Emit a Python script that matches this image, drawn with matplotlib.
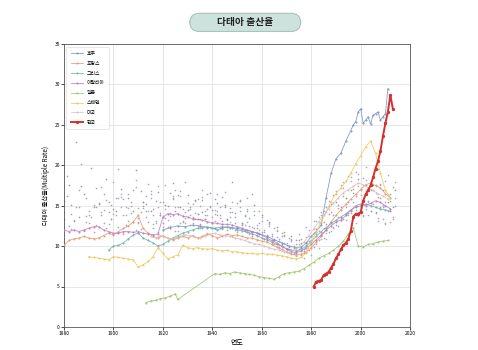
"""
다태아 출산율 chart recreation
"""
import numpy as np
import matplotlib
matplotlib.use('Agg')
import matplotlib.pyplot as plt
from matplotlib.patches import FancyBboxPatch

plt.rcParams['font.family'] = ['Noto Sans CJK KR', 'DejaVu Sans']

nan = np.nan

# highlighted countries
france_years = list(range(1880, 2013, 2))
france = [10.1, 10.7, 10.9, 11.0, 11.2, 11.0, 10.9, 11.0, 11.3, 11.6,
          11.4, 11.8, 12.2, 12.5, 13.0, 13.8, 12.2, 11.6, 11.2, 11.0,
          11.3, 11.0, 10.8, 11.0, 11.2, 11.0, 11.3, 11.0, 11.2, 11.5,
          11.3, 11.0, 11.2, 11.5, 11.3, 11.4, 11.2, 11.0, 11.0, 10.8,
          10.6, 10.5, 10.2, 9.9, 9.6, 9.3, 9.0, 8.9, 9.0, 9.3,
          9.8, 10.5, 11.2, 12.0, 13.0, 13.8, 14.5, 15.2, 15.8, 16.4,
          17.0, 17.6, 17.8, 17.5, 17.2, 16.5, 16.0]

italy_years = list(range(1880, 2013, 2))
italy = [12.0, 11.8, 12.0, 11.8, 12.0, 12.2, 12.4, 12.4, 12.0, 11.8,
         11.6, 11.6, 11.8, 11.8, 11.7, 11.8, 11.6, 11.5, 11.4, 11.5,
         13.6, 14.0, 13.9, 14.0, 13.7, 13.6, 13.4, 13.3, 13.2, 13.0,
         12.9, 12.8, 12.7, 12.7, 12.6, 12.4, 12.2, 12.0, 11.8, 11.6,
         11.4, 11.0, 10.7, 10.4, 10.0, 9.6, 9.3, 9.2, 9.4, 9.8,
         10.2, 10.8, 11.4, 12.0, 12.5, 13.0, 13.2, 13.8, 14.4, 15.0,
         15.2, 15.0, 15.3, 15.6, 15.4, 15.0, 14.6]

greece_years = list(range(1898, 2013, 2))
greece = [9.5, 10.0, 10.1, 10.4, 10.9, 11.4, 11.6, 11.0, 10.7, 10.4,
          10.0, 10.2, 10.6, 11.0, 11.3, 11.6, 11.8, 12.0, 12.2, 12.3,
          12.4, 12.2, 12.0, 12.2, 12.4, 12.3, 12.0, 11.9, 11.7, 11.5,
          11.3, 11.0, 10.8, 10.5, 10.2, 10.0, 9.7, 9.5, 9.4, 9.6,
          10.0, 10.6, 11.2, 11.8, 12.3, 12.8, 13.2, 13.6, 14.0, 14.5,
          14.8, 15.0, 15.2, 15.0, 14.8, 14.6, 14.5, 14.3]

sweden_years = list(range(1890, 2013, 2))
sweden = [8.7, 8.6, 8.5, 8.4, 8.3, 8.7, 8.6, 8.5, 8.4, 8.3,
          7.4, 7.7, 8.1, 8.7, 9.8, 9.1, 8.4, 8.7, 8.9, 10.1,
          9.8, 9.7, 9.8, 9.7, 9.6, 9.7, 9.5, 9.4, 9.5, 9.3,
          9.3, 9.2, 9.1, 9.1, 9.0, 9.1, 9.0, 9.0, 8.9, 8.8,
          8.7, 8.5, 8.4, 8.6, 9.2, 10.5, 11.8, 13.0, 14.2, 15.5,
          16.5, 17.2, 18.0, 19.0, 20.2, 21.2, 22.3, 23.0, 21.5, 19.0,
          16.9, 16.0]

japan_years = [1913, 1915, 1917, 1919, 1921, 1923, 1925, 1926] + list(range(1941, 2012, 2))
japan = [3.0, 3.2, 3.3, 3.5, 3.6, 3.8, 4.1, 3.4,
         6.6, 6.5, 6.7, 6.6, 6.8, 6.7, 6.6, 6.5, 6.4, 6.2,
         6.1, 6.0, 5.9, 6.2, 6.6, 6.7, 6.8, 6.9, 7.2, 7.6,
         8.0, 8.5, 8.8, 9.1, 9.5, 10.0, 10.6, 11.5, 12.3, 10.0,
         9.9, 10.2, 10.3, 10.5, 10.6, 10.7]

australia_years = list(range(1920, 1975, 3)) + list(range(1976, 1997, 2)) + list(range(1997, 2012))
australia = [12.0, 12.3, 12.5, 12.4, 12.6, 12.5, 12.3, 12.2, 12.4, 12.3,
             12.2, 12.0, 11.8, 11.5, 11.2, 10.8, 10.4, 10.0, 9.8,
             9.9, 10.4, 11.2, 11.8, 12.6, 16.0, 19.0, 20.8, 21.5, 23.0, 24.3,
             25.0, 25.4, 26.6, 27.0, 25.2, 25.6, 26.0, 25.1, 26.2, 26.4,
             26.6, 25.6, 26.0, 26.4, 29.5]

usa_years = list(range(1915, 2012, 2))
usa = [11.2, 11.0, 11.3, 11.1, 10.9, 11.0, 11.2, 11.4, 11.3, 11.1,
       11.0, 11.2, 11.5, 11.6, 11.4, 11.3, 11.2, 11.0, 10.9, 10.7,
       10.5, 10.3, 10.2, 10.0, 9.8, 9.6, 9.5, 9.3, 9.2, 9.5,
       9.9, 10.5, 11.3, 12.1, 13.0, 13.8, 14.6, 15.3, 16.0, 16.6,
       17.0, 17.4, 17.8, 17.6, 17.2, 16.9, 16.5, 16.2, 15.8]

korea_years = list(range(1981, 2014))
korea = [5.0, 5.6, 5.7, 5.8, 6.4, 6.6, 6.8, 7.3, 7.8, 8.5,
         9.0, 9.6, 10.1, 10.4, 10.9, 11.9, 13.6, 14.0, 14.0, 14.2,
         15.6, 16.4, 16.9, 17.5, 18.5, 19.6, 20.5, 21.8, 23.6, 25.2,
         26.6, 28.7, 27.0]

# other countries (background dots), one value every 3 years
bg_starts = [1880, 1881, 1882, 1881, 1880, 1882, 1881, 1882,
             1880, 1881, 1882, 1880]
bg_values = [
    [14.2, 15.1, 13.6, 16.0, 14.8, 13.9, 15.5, 14.4, 15.8, 14.1,
     13.5, 15.2, 14.6, 13.8, 15.0, 14.3, 13.7, 14.9, 14.0, 13.4,
     14.5, 13.9, 13.2, 13.6, 12.9, 12.5, 12.2, 11.8, 11.2, 10.6,
     10.1, 9.8, 10.4, 11.2, 12.1, 13.0, 14.2, 15.1, 16.0, 16.6,
     17.1, 16.8, 17.4, 16.9, 16.5],
    [16.2, 13.1, 17.4, 12.8, 14.9, 16.5, 13.3, 15.9, 12.6, 14.4,
     16.8, 13.0, 15.6, 12.9, 14.1, 16.3, 13.5, 15.2, 12.7, 14.6,
     15.8, 13.1, 14.2, 12.4, 13.7, 11.9, 12.8, 11.4, 10.9, 11.3,
     9.9, 10.7, 9.4, 10.8, 11.9, 12.7, 13.8, 14.9, 15.4, 16.2,
     15.7, 16.9, 16.1, 15.5, 14.8],
    [12.5, 14.8, 11.9, 13.6, 15.3, 12.2, 14.0, 16.4, 13.1, 12.0,
     14.7, 15.9, 11.8, 13.5, 16.2, 12.9, 14.5, 13.3, 15.7, 12.4,
     13.8, 15.1, 12.6, 14.3, 13.0, 12.3, 11.7, 12.9, 11.1, 10.4,
     10.8, 9.6, 10.1, 9.9, 10.9, 11.8, 12.6, 13.4, 14.1, 13.7,
     14.6, 15.2, 14.9, 14.3, 15.0],
    [18.7, 13.2, 20.1, 14.4, 17.2, 12.9, 15.1, 19.6, 13.8, 16.9,
     14.2, 17.7, 13.1, 15.4, 16.6, 14.8, 17.9, 13.6, 15.0, 16.4,
     14.0, 16.1, 14.7, 15.3, 13.9, 16.5, 14.4, 13.2, 12.3, 11.6,
     11.0, 10.3, 9.7, 10.4, 13.6, 14.8, 16.3, 17.5, 18.7, 19.2,
     18.4, 17.8, 19.5, 18.1, 17.3],
    [13.4, 12.1, 14.9, 13.0, 11.8, 14.2, 12.7, 13.9, 11.5, 15.0,
     12.8, 13.6, 12.2, 14.1, 13.2, 11.9, 13.0, 14.6, 12.5, 13.8,
     12.3, 13.5, 12.0, 12.9, 12.6, 11.8, 11.4, 10.9, 10.5, 9.8,
     9.3, 9.0, 8.9, 9.5, 10.2, 11.0, 11.9, 12.5, 13.2, 13.9,
     14.5, 13.8, 14.1, 13.4, 13.0],
    [nan, nan, nan, nan, nan, nan, nan, 16.1, 14.7, 17.3,
     15.4, 16.8, 14.9, 17.6, 15.8, 16.2, 14.5, 15.6, 17.0, 14.8,
     16.4, 15.1, 14.2, 15.7, 14.6, 13.8, 13.1, 12.5, 11.9, 11.2,
     10.6, 11.5, 12.4, 13.1, 14.2, 15.6, 16.8, 17.9, 18.6, 17.4,
     18.2, 16.9, 17.7, 16.3, 15.9],
    [nan, nan, nan, nan, nan, nan, nan, nan, nan, nan,
     nan, nan, nan, 12.4, 13.7, 11.9, 14.2, 12.8, 13.3, 11.6,
     14.5, 12.1, 13.0, 11.7, 12.6, 11.3, 12.0, 10.8, 10.2, 9.7,
     9.3, 8.8, 8.5, 8.9, 9.8, 10.9, 12.2, 13.5, 14.1, 12.9,
     13.8, 14.4, 13.1, 12.7, 13.3],
    [17.5, 22.9, 16.4, 19.7, 15.2, 18.3, 14.6, 17.1, 16.0, 19.4,
     15.5, 14.3, 16.7, 15.1, 17.8, 14.9, 16.3, 15.7, 14.2, 16.6,
     15.3, 14.8, 17.9, 15.6, 14.4, 15.1, 13.9, 13.0, 12.4, 11.8,
     11.3, 10.8, 10.5, 11.6, 12.9, 14.0, 15.5, 16.2, 17.0, 18.3,
     16.8, 17.6, 16.0, 15.4, 16.9],
    [15.6, 14.0, 16.9, 13.7, 15.1, 17.3, 14.2, 16.0, 13.9, 15.4,
     14.7, 16.2, 13.8, 15.5, 14.0, 16.9, 14.6, 13.9, 15.8, 14.3,
     13.6, 14.9, 13.4, 14.1, 12.8, 13.5, 12.6, 12.0, 11.5, 10.9,
     10.4, 10.0, 10.9, 12.0, 13.1, 14.4, 15.2, 14.7, 15.9, 17.1,
     16.3, 15.6, 16.6, 15.1, 14.6],
    [nan, nan, nan, 13.9, 12.6, 14.5, 13.3, 12.4, 14.8, 13.0,
     12.1, 14.3, 12.9, 13.7, 12.5, 14.0, 12.8, 13.4, 12.2, 13.9,
     13.1, 12.7, 13.6, 12.2, 11.9, 12.4, 11.6, 11.1, 10.7, 10.3,
     9.7, 9.4, 9.2, 9.9, 10.7, 11.6, 12.4, 13.2, 13.9, 14.5,
     13.7, 14.3, 13.5, 12.9, 13.6],
    [nan, nan, nan, nan, nan, 15.7, 17.9, 14.8, 16.5, 18.2,
     15.0, 16.4, 17.4, 14.6, 15.9, 16.8, 15.3, 14.1, 16.1, 15.0,
     14.4, 16.7, 15.4, 14.8, 15.9, 14.3, 13.6, 12.7, 12.0, 11.4,
     10.9, 10.2, 11.1, 12.3, 13.8, 15.0, 16.4, 17.2, 18.0, 18.9,
     19.8, 18.6, 17.5, 18.8, 17.9],
    [nan, nan, nan, nan, nan, nan, nan, nan, nan, nan,
     13.0, 14.4, 12.7, 13.8, 12.4, 14.9, 13.1, 12.6, 14.0, 13.3,
     12.9, 12.2, 13.4, 12.0, 12.7, 11.5, 11.8, 10.9, 10.3, 9.9,
     9.6, 9.1, 9.8, 10.6, 11.5, 12.3, 13.0, 13.6, 14.9, 15.5,
     14.8, 15.4, 14.2, 14.9, 15.6],
]
bg_colors = ['#8a90b5', '#9a88b8', '#7fa8a6', '#9a9a9a',
             '#b08ea2', '#8ea2cc', '#a6a68c', '#8c8c8c',
             '#9b95bd', '#88aab0', '#a89cab', '#8f9cb8']

series = [
    ('호주', australia_years, australia, '#7a92c8'),
    ('프랑스', france_years, france, '#eb9870'),
    ('그리스', greece_years, greece, '#6fb0aa'),
    ('이탈리아', italy_years, italy, '#c27ac4'),
    ('일본', japan_years, japan, '#9cc46c'),
    ('스웨덴', sweden_years, sweden, '#ecc85a'),
    ('미국', usa_years, usa, '#dcc0bc'),
]

fig = plt.figure(figsize=(4.78, 3.5), dpi=100)
ax = fig.add_axes([0.134, 0.066, 0.724, 0.808])

# background dots
for start, vals, col in zip(bg_starts, bg_values, bg_colors):
    yrs = list(range(start, start + 3 * len(vals), 3))
    ax.scatter(yrs, vals, s=1.4, color=col, alpha=0.85, linewidths=0, zorder=2)

for name, yrs, vals, col in series:
    ax.plot(yrs, vals, color=col, lw=0.6, marker='o', markersize=1.5,
            markeredgewidth=0, alpha=0.9, label=name, zorder=3)

ax.plot(korea_years, korea, color='#d2322d', lw=1.4, marker='o', markersize=2.4,
        markeredgewidth=0, label='한국', zorder=4)

ax.set_xlim(1880, 2020)
ax.set_ylim(0, 35)
ax.set_xticks(range(1880, 2021, 20))
ax.set_yticks(range(0, 36, 5))
ax.grid(True, color='#dddddd', lw=0.5)
ax.set_axisbelow(True)
ax.tick_params(labelsize=3.5, length=2, width=0.5, pad=1)
for sp in ax.spines.values():
    sp.set_color('#555555')
    sp.set_linewidth(0.6)

ax.set_xlabel('연도', fontsize=5, labelpad=2)
ax.set_ylabel('다태아 출산율(Multiple Rate)', fontsize=4.5, labelpad=3)

leg = ax.legend(loc='upper left', fontsize=3.5, frameon=True, handlelength=2.5,
                labelspacing=1.0, borderpad=0.9, handletextpad=0.8)
leg.get_frame().set_linewidth(0.4)
leg.get_frame().set_edgecolor('#cccccc')

# title pill
box = FancyBboxPatch((0.397, 0.91), 0.232, 0.052,
                     boxstyle='round,pad=0,rounding_size=0.02',
                     mutation_aspect=478 / 350,
                     transform=fig.transFigure, facecolor='#cde2dc',
                     edgecolor='#a8c5bc', linewidth=0.8)
fig.patches.append(box)
fig.text(0.513, 0.936, '다태아 출산율', ha='center', va='center',
         fontsize=7, fontweight='bold', color='#222222')

fig.savefig('out.png', dpi=100)
